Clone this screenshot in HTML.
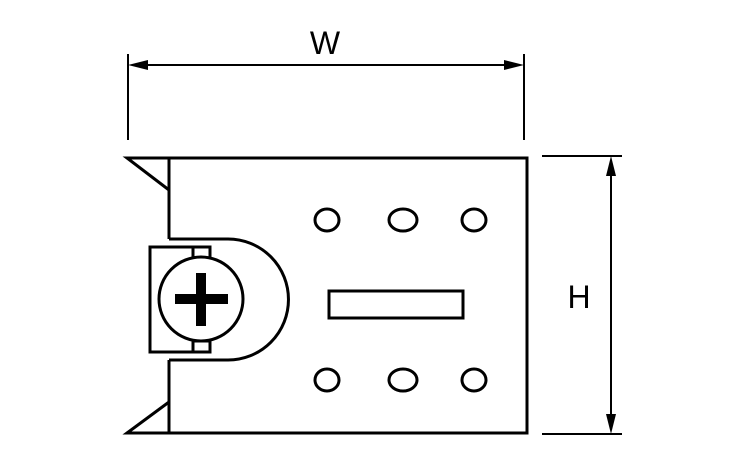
<!DOCTYPE html>
<html><head><style>body{margin:0;background:#fff}svg{display:block}</style></head>
<body>
<svg width="750" height="450" viewBox="0 0 750 450" xmlns="http://www.w3.org/2000/svg">
<g fill="none" stroke="#000" stroke-width="2">
<line x1="128" y1="54" x2="128" y2="140"/>
<line x1="524" y1="54" x2="524" y2="140"/>
<line x1="132" y1="65" x2="520" y2="65"/>
<line x1="542" y1="156" x2="622" y2="156"/>
<line x1="542" y1="434" x2="622" y2="434"/>
<line x1="611" y1="160" x2="611" y2="430"/>
</g>
<g fill="#000">
<polygon points="128,65 148,60 148,70"/>
<polygon points="524,65 504,60 504,70"/>
<polygon points="611,156 606,176 616,176"/>
<polygon points="611,434 606,414 616,414"/>
</g>
<g fill="none" stroke="#000" stroke-width="3">
<polyline points="169,190 169,158 527,158 527,433 169,433 169,402"/>
<polyline points="169,158 127,158 169,190"/>
<polyline points="169,433 127,433 169,402"/>
<line x1="169" y1="190" x2="169" y2="239"/>
<line x1="169" y1="360" x2="169" y2="402"/>
<path d="M169,239 L228,239 A60.5,60.5 0 0 1 228,360 L169,360"/>
<rect x="150" y="247" width="43" height="105" fill="#fff"/>
<rect x="193" y="247" width="17" height="11" fill="#fff"/>
<rect x="193" y="341" width="17" height="11" fill="#fff"/>
<line x1="169" y1="247" x2="193" y2="247"/>
<line x1="169" y1="352" x2="193" y2="352"/>
<circle cx="201" cy="299" r="42" fill="#fff"/>
<ellipse cx="327" cy="220" rx="12" ry="11"/>
<ellipse cx="403" cy="220" rx="14" ry="11"/>
<ellipse cx="474" cy="220" rx="12" ry="11"/>
<ellipse cx="327" cy="380" rx="12" ry="11"/>
<ellipse cx="403" cy="380" rx="14" ry="11"/>
<ellipse cx="474" cy="380" rx="12" ry="11"/>
<rect x="329" y="291" width="134" height="27"/>
</g>
<g fill="#000">
<rect x="175" y="294" width="53" height="10"/>
<rect x="196" y="273" width="10" height="53"/>
</g>
<g font-family="Liberation Sans, sans-serif" font-size="32" fill="#000">
<text x="325" y="54" text-anchor="middle">W</text>
<text x="579" y="308" text-anchor="middle">H</text>
</g>
</svg>
</body></html>
